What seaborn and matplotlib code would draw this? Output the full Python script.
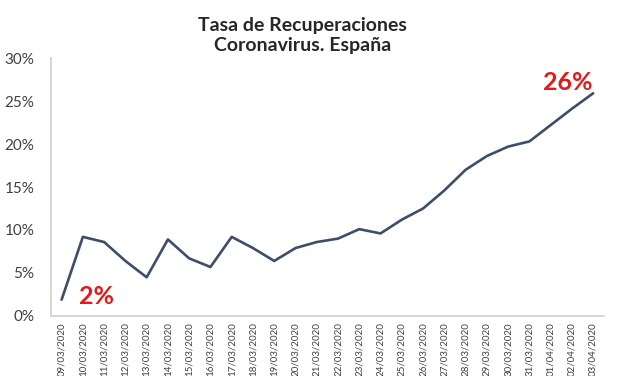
import matplotlib
matplotlib.use('Agg')
import matplotlib.pyplot as plt
import pandas as pd
import seaborn as sns

# fechas y tasa de recuperacion (%)
fechas = ['09/03/2020', '10/03/2020', '11/03/2020', '12/03/2020', '13/03/2020',
          '14/03/2020', '15/03/2020', '16/03/2020', '17/03/2020', '18/03/2020',
          '19/03/2020', '20/03/2020', '21/03/2020', '22/03/2020', '23/03/2020',
          '24/03/2020', '25/03/2020', '26/03/2020', '27/03/2020', '28/03/2020',
          '29/03/2020', '30/03/2020', '31/03/2020', '01/04/2020', '02/04/2020',
          '03/04/2020']
tasa = [1.9, 9.2, 8.6, 6.4, 4.5, 8.9, 6.7, 5.7, 9.2, 7.9,
        6.4, 7.9, 8.6, 9.0, 10.1, 9.6, 11.2, 12.5, 14.6, 17.0,
        18.6, 19.7, 20.3, 22.2, 24.1, 25.9]
y_ticks = [0, 5, 10, 15, 20, 25, 30]

df = pd.DataFrame({'pos': range(len(fechas)), 'fecha': fechas, 'tasa': tasa})

sns.set_style('white')
plt.rcParams['font.family'] = ['Lato', 'DejaVu Sans']

fig = plt.figure(figsize=(6.27, 3.76), dpi=100)
ax = fig.add_axes([0.0813, 0.1596, 0.8817, 0.6861])

sns.lineplot(data=df, x='pos', y='tasa', color='#3C4E6A', linewidth=1.9, ax=ax)

ax.set_xlim(-0.5, len(fechas) - 0.5)
ax.set_ylim(0, 30)
ax.set_yticks(y_ticks)
ax.set_yticklabels(['{}%'.format(t) for t in y_ticks], fontsize=11, color='#404040')
ax.set_xticks(df['pos'])
ax.set_xticklabels(fechas, rotation=90, fontsize=7, color='#404040')
ax.tick_params(axis='both', length=0)
ax.tick_params(axis='y', pad=12)
ax.tick_params(axis='x', pad=4.5)
ax.set_xlabel('')
ax.set_ylabel('')

for s in ['top', 'right']:
    ax.spines[s].set_visible(False)
for s in ['left', 'bottom']:
    ax.spines[s].set_color('#D0D0D0')
    ax.spines[s].set_linewidth(1.2)

ax.text(1.65, 2.3, '{:.0f}%'.format(tasa[0]), color='#E31A1C', fontsize=18,
        fontweight='bold', ha='center', va='center')
ax.text(23.8, 27.2, '{:.0f}%'.format(tasa[-1]), color='#E31A1C', fontsize=18,
        fontweight='bold', ha='center', va='center')

fig.text(0.482, 0.955, 'Tasa de Recuperaciones\nCoronavirus. España', ha='center',
         va='top', fontsize=14, fontweight='bold', linespacing=1.2)

plt.savefig('out.png', dpi=100)
